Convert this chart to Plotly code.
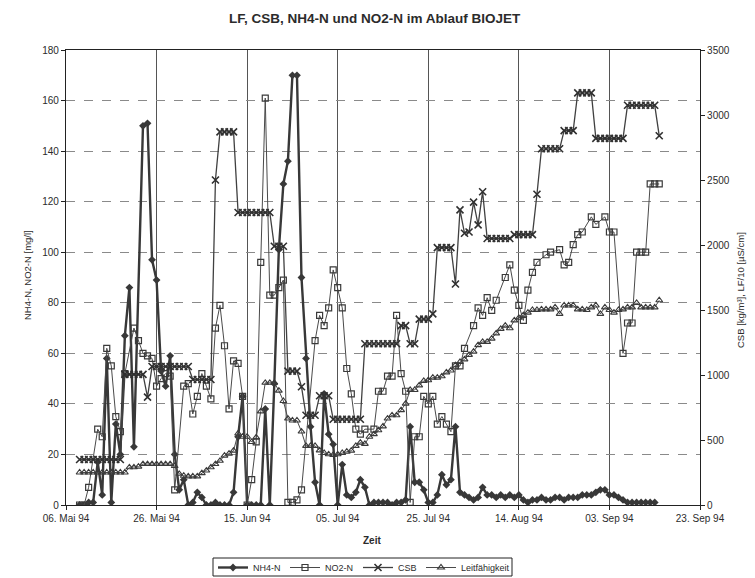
import pandas as pd
import plotly.graph_objects as go

START = pd.Timestamp("1994-05-06")

tick_days = [0, 20, 40, 60, 80, 100, 120, 140]
tick_labels = ["06. Mai 94", "26. Mai 94", "15. Jun 94", "05. Jul 94",
               "25. Jul 94", "14. Aug 94", "03. Sep 94", "23. Sep 94"]

# NH4-N [mg/l] (days after 06 May 94)
nh4_days = [3, 4, 5, 6, 7, 8, 9, 10, 11, 12, 13, 14, 15,
            17, 18, 19, 20, 21, 22, 23, 24, 25, 26, 27, 28, 29, 30,
            31, 32, 33, 34, 35, 36, 37, 38, 39, 40, 41, 42, 43,
            44, 45, 46, 47, 48, 49, 50, 51, 52, 53, 54, 55, 56,
            57, 58, 59, 60, 61, 62, 63, 64, 65, 66, 67,
            68, 69, 70, 71, 72, 73, 74, 75,
            76, 77, 78, 79, 80, 81, 82, 83, 84, 85, 86, 87, 88, 89, 90, 91,
            92, 93, 94, 95, 96, 97, 98, 99, 100, 101,
            102, 103, 104, 105, 106, 107, 108, 109, 110, 111,
            112, 113, 114, 115, 116, 117, 118, 119, 120, 121,
            122, 123, 124, 125, 126, 127, 128, 129, 130]
nh4_vals = [0, 0, 1, 1, 17, 4, 58, 1, 32, 20, 67, 86, 23,
            150, 151, 97, 89, 53, 47, 59, 20, 6, 10, 0, 1, 5, 3,
            0, 0, 1, 0, 0, 0, 5, 27, 43, 0, 0, 0, 0,
            38, 0, 48, 101, 127, 136, 170, 170, 90, 58, 31, 9, 0,
            44, 28, 24, 0, 16, 4, 3, 5, 10, 7, 0,
            1, 1, 1, 1, 0, 1, 1, 2,
            31, 9, 9, 6, 1, 1, 4, 12, 8, 10, 31, 5, 4, 3, 2, 3,
            7, 4, 4, 3, 4, 3, 4, 3, 4, 2,
            1, 2, 2, 3, 2, 2, 3, 3, 2, 3,
            3, 3, 4, 4, 4, 5, 6, 6, 4, 4,
            3, 2, 1, 1, 1, 1, 1, 1, 1]

# NO2-N [mg/l]
no2_days = [3, 4, 5, 7, 8, 9, 10, 11, 12, 13, 15, 16, 17, 18, 19, 20, 21, 22, 23, 24,
            26, 27, 28, 29, 30, 31, 32, 33, 34, 35, 36, 37, 38, 39, 40, 41, 42, 43, 44,
            45, 46, 47, 48, 49, 50, 51, 52, 55, 56, 57, 58, 59, 60, 61, 62, 63, 64, 65,
            66, 68, 69, 70, 71, 72, 73, 74, 75, 76, 77, 78, 79, 80, 81, 82, 83, 84, 85,
            86, 87, 88, 90, 91, 92, 93, 94, 95, 97, 98, 99, 100, 101, 102, 103, 104,
            106, 107, 109, 110, 111, 112, 113, 114, 116, 117, 119, 120, 121, 123, 124,
            125, 126, 127, 128, 129, 130, 131]
no2_vals = [0, 0, 7, 30, 27, 62, 55, 35, 29, 52, 70, 65, 60, 59, 58, 47, 50, 52, 51, 6,
            47, 48, 36, 43, 52, 47, 42, 70, 79, 63, 38, 57, 56, 43, 0, 10, 25, 96, 161,
            83, 83, 86, 89, 1, 1, 2, 6, 65, 75, 71, 78, 93, 86, 78, 54, 44, 30, 28,
            30, 30, 45, 45, 51, 51, 75, 52, 45, 1, 27, 27, 43, 40, 43, 32, 35, 32, 29,
            55, 55, 62, 71, 78, 75, 82, 77, 81, 90, 95, 85, 79, 73, 85, 92, 96,
            99, 100, 101, 95, 96, 103, 107, 108, 114, 111, 114, 108, 108, 60, 72,
            72, 100, 100, 100, 127, 127, 127]

# CSB [kg/m3] (right axis)
csb_days = [3, 4, 5, 6, 7, 8, 9, 10, 11, 12,
            13, 14, 15, 16, 17, 18,
            19, 20, 21, 22, 23, 24, 25, 26, 27,
            28, 29, 30, 31, 32, 33, 34, 35, 36, 37,
            38, 39, 40, 41, 42, 43, 44, 45, 46, 47, 48,
            49, 50, 51, 52, 53, 54, 55, 56, 57, 58,
            59, 60, 61, 62, 63, 64, 65,
            66, 67, 68, 69, 70, 71, 72, 73, 74, 75, 76, 77,
            78, 79, 80, 81, 82, 83, 84, 85, 86, 87, 88, 89, 90, 91, 92,
            93, 94, 95, 96, 97, 98, 99, 100, 101, 102, 103, 104,
            105, 106, 107, 108, 109, 110, 111, 112, 113, 114, 115, 116,
            117, 118, 119, 120, 121, 122, 123,
            124, 125, 126, 127, 128, 129, 130, 131]
csb_vals = [350, 350, 350, 350, 350, 350, 350, 350, 350, 350,
            1005, 1005, 1005, 1005, 1005, 830,
            1065, 1065, 1065, 1065, 1065, 1065, 1065, 1065, 1065,
            965, 965, 965, 965, 965, 2500, 2870, 2870, 2870, 2870,
            2250, 2250, 2250, 2250, 2250, 2250, 2250, 2250, 1990, 1990, 1990,
            1030, 1030, 1030, 910, 690, 690, 690, 840, 840, 840,
            660, 660, 660, 660, 660, 660, 660,
            1240, 1240, 1240, 1240, 1240, 1240, 1240, 1240, 1380, 1380, 1240, 1240,
            1430, 1430, 1430, 1470, 1980, 1980, 1980, 1980, 1700, 2270, 2090, 2100, 2330, 2155, 2410,
            2050, 2050, 2050, 2050, 2050, 2050, 2080, 2080, 2080, 2080, 2080, 2390,
            2740, 2740, 2740, 2740, 2740, 2880, 2880, 2880, 3170, 3170, 3170, 3170,
            2820, 2820, 2820, 2820, 2820, 2820, 2820,
            3075, 3075, 3075, 3075, 3075, 3075, 3075, 2840]

# Leitfaehigkeit LF/10 [uS/cm] (right axis)
lf_days = [3, 4, 5, 6, 7, 8, 9, 10, 11, 12, 13,
           14, 15, 16, 17, 18, 19, 20, 21, 22, 23, 24, 25, 26, 27, 28, 29, 30,
           31, 32, 33, 34, 35, 36, 37, 38, 39, 40, 41, 42, 43, 44, 45, 46, 47, 48,
           49, 50, 51, 52, 53, 54, 55, 56, 57, 58, 59, 60, 61, 62, 63, 64, 65, 66,
           67, 68, 69, 70, 71, 72, 73, 74, 75, 76, 77, 78, 79, 80, 81, 82, 83, 84,
           85, 86, 87, 88, 89, 90, 91, 92, 93, 94, 95, 96, 97, 98, 99, 100, 101, 102,
           103, 104, 105, 106, 107, 108, 109, 110, 111, 112, 113, 114, 115, 116, 117,
           118, 119, 120, 121, 122, 123, 124, 125, 126, 127, 128, 129, 130, 131]
lf_vals = [250, 250, 250, 250, 250, 250, 250, 250, 250, 250, 250,
           290, 290, 295, 315, 315, 315, 315, 315, 315, 315, 300, 240, 225, 220, 220, 220, 245,
           265, 290, 315, 340, 380, 395, 418, 550, 525, 525, 485, 520, 720, 940, 940, 940, 880, 800,
           665, 650, 650, 565, 455, 455, 455, 420, 400, 390, 385, 390, 400, 410, 418, 455, 480, 470,
           525, 545, 575, 605, 665, 690, 690, 730, 780, 885, 885, 920, 955, 960, 980, 980, 990, 1020,
           1035, 1075, 1100, 1120, 1155, 1180, 1230, 1255, 1255, 1280, 1320, 1355, 1380, 1360, 1420, 1440, 1460, 1480,
           1500, 1500, 1505, 1505, 1505, 1520, 1470, 1535, 1535, 1535, 1505, 1505, 1500, 1520, 1535,
           1470, 1520, 1500, 1480, 1500, 1505, 1520, 1520, 1555, 1520, 1520, 1520, 1520, 1575]


def to_dates(days):
    return [START + pd.Timedelta(days=d) for d in days]


FONT = "Liberation Sans, Arial, sans-serif"
INK = "#2b2b2b"

fig = go.Figure()
fig.add_trace(go.Scatter(
    x=to_dates(nh4_days), y=nh4_vals, name="NH4-N", mode="lines+markers", legend="legend",
    line=dict(color="#383838", width=2.4),
    marker=dict(symbol="diamond", size=6, color="#383838"),
))
fig.add_trace(go.Scatter(
    x=to_dates(no2_days), y=no2_vals, name="NO2-N", mode="lines+markers", legend="legend2",
    line=dict(color="#4a4a4a", width=1),
    marker=dict(symbol="square-open", size=6, color="#3a3a3a", line=dict(width=1.2)),
))
fig.add_trace(go.Scatter(
    x=to_dates(csb_days), y=csb_vals, name="CSB", mode="lines+markers", yaxis="y2", legend="legend3",
    line=dict(color="#404040", width=1.3),
    marker=dict(symbol="x-thin-open", size=7, color="#303030", line=dict(width=1.6, color="#303030")),
))
fig.add_trace(go.Scatter(
    x=to_dates(lf_days), y=lf_vals, name="Leitfähigkeit", mode="lines+markers", yaxis="y2",
    legend="legend4",
    line=dict(color="#4a4a4a", width=1),
    marker=dict(symbol="triangle-up-open", size=6, color="#3a3a3a", line=dict(width=1.1)),
))

# The page body adds an 8 px margin, so the figure is sized and laid out in
# page coordinates shifted by that offset.
OFF = 8
W, H = 755 - OFF, 578 - OFF
PLOT_L, PLOT_R, PLOT_T, PLOT_B = 66, 700, 50, 505          # page pixels
L, R = PLOT_L - OFF, W - (PLOT_R - OFF)
T, B = PLOT_T - OFF, H - (PLOT_B - OFF)
pw, ph = W - L - R, H - T - B


def px(sx):
    return (sx - OFF - L) / pw


def py(sy):
    return (H - B - (sy - OFF)) / ph


def legend_at(sx):
    return dict(orientation="h", xref="container", yref="container",
                x=(sx - OFF) / W, y=1 - (567.5 - OFF) / H, xanchor="left", yanchor="middle",
                borderwidth=0, bgcolor="rgba(0,0,0,0)",
                font=dict(size=9, color=INK, family=FONT), itemwidth=30)


fig.update_layout(
    width=W, height=H,
    margin=dict(l=L, r=R, t=T, b=B),
    paper_bgcolor="white", plot_bgcolor="white",
    font=dict(family=FONT, size=10, color=INK),
    showlegend=True,
    legend=legend_at(213),
    legend2=legend_at(285),
    legend3=legend_at(358),
    legend4=legend_at(421),
    xaxis=dict(
        type="date", range=[START, START + pd.Timedelta(days=140)],
        tickvals=to_dates(tick_days), ticktext=tick_labels,
        showgrid=True, gridcolor="#555", gridwidth=1,
        showline=True, linecolor="#222", linewidth=1.2, mirror=True,
        ticks="outside", ticklen=4, tickcolor="#222",
        tickfont=dict(size=10), zeroline=False,
    ),
    yaxis=dict(
        range=[0, 180], dtick=20, tickmode="linear", tick0=0,
        showgrid=True, gridcolor="#8a8a8a", gridwidth=1, griddash="dash",
        showline=True, linecolor="#222", linewidth=1.2,
        ticks="outside", ticklen=4, tickcolor="#222",
        tickfont=dict(size=10), zeroline=False,
    ),
    yaxis2=dict(
        range=[0, 3500], dtick=500, tickmode="linear", tick0=0,
        overlaying="y", side="right", showgrid=False,
        showline=True, linecolor="#222", linewidth=1.2,
        ticks="outside", ticklen=4, tickcolor="#222",
        tickfont=dict(size=10), zeroline=False,
    ),
    shapes=[
        dict(type="rect", xref="paper", yref="paper",
             x0=px(213), x1=px(512), y0=py(558), y1=py(576),
             line=dict(color="#222", width=1), fillcolor="rgba(0,0,0,0)"),
    ],
    annotations=[
        dict(text="<b>LF, CSB, NH4-N und NO2-N im Ablauf BIOJET</b>", x=px(375), y=py(18),
             xref="paper", yref="paper", showarrow=False, font=dict(size=13.5, color=INK),
             xanchor="center", yanchor="middle"),
        dict(text="<b>Zeit</b>", x=px(372), y=py(540), xref="paper", yref="paper",
             showarrow=False, font=dict(size=10, color=INK), xanchor="center", yanchor="middle"),
        dict(text="NH4-N, NO2-N [mg/l]", x=px(27), y=py(275), xref="paper", yref="paper",
             showarrow=False, textangle=-90, font=dict(size=9.5, color=INK),
             xanchor="center", yanchor="middle"),
        dict(text="CSB [kg/m³], LF/10 [µS/cm]", x=px(740), y=py(290), xref="paper", yref="paper",
             showarrow=False, textangle=-90, font=dict(size=9.5, color=INK),
             xanchor="center", yanchor="middle"),
    ],
)

fig.write_html("out.html")
